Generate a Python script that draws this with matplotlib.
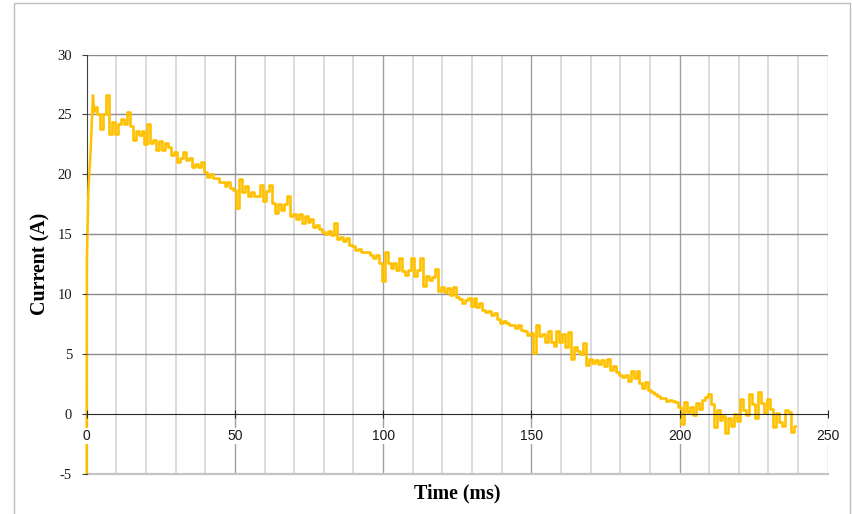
import matplotlib
matplotlib.use('Agg')
import matplotlib.pyplot as plt
import numpy as np
from matplotlib.patches import Rectangle

# switch-on ramp (ms, A)
t_rise = [0.0, 0.05, 0.6, 1.3, 2.1, 2.6]
i_rise = [-5.0, 13.0, 18.8, 21.8, 26.6, 25.2]

# current, 1 ms steps starting at 3 ms
t_first = 3
current = [
    25.6, 25.0, 23.8, 25.0, 26.6, 23.4, 24.4, 23.4, 24.2, 24.6,   # 3-12
    24.2, 25.2, 24.0, 22.9, 23.6, 23.3, 23.6, 22.5, 24.2, 22.6,   # 13-22
    22.9, 22.0, 22.8, 22.0, 22.6, 22.3, 21.6, 21.9, 21.0, 21.4,   # 23-32
    21.9, 21.2, 21.4, 20.6, 20.9, 20.6, 21.0, 20.2, 19.8, 20.0,   # 33-42
    19.7, 19.7, 19.4, 19.4, 19.0, 19.4, 18.9, 18.7, 17.2, 19.6,   # 43-52
    18.5, 19.0, 18.2, 18.5, 18.2, 18.2, 19.1, 17.8, 18.6, 19.1,   # 53-62
    17.6, 16.8, 17.5, 17.0, 17.5, 18.2, 16.5, 16.7, 16.3, 16.7,   # 63-72
    15.9, 16.5, 16.0, 16.3, 15.6, 15.8, 15.4, 15.2, 15.0, 15.3,   # 73-82
    14.9, 15.9, 14.6, 14.8, 14.4, 14.7, 14.1, 14.0, 13.7, 13.8,   # 83-92
    13.5, 13.5, 13.5, 13.3, 13.0, 13.3, 12.6, 11.1, 13.5, 12.6,   # 93-102
    12.2, 12.6, 12.0, 13.0, 11.9, 11.6, 12.0, 13.0, 11.5, 12.0,   # 103-112
    13.0, 10.7, 11.5, 11.2, 11.4, 12.1, 10.3, 10.6, 10.2, 10.5,   # 113-122
    9.9, 10.6, 9.8, 9.6, 9.3, 9.5, 9.7, 9.0, 9.7, 8.9,            # 123-132
    9.3, 8.7, 8.5, 8.6, 8.3, 8.4, 7.9, 7.6, 7.8, 7.6,             # 133-142
    7.4, 7.4, 7.2, 7.4, 7.0, 6.9, 6.6, 6.8, 5.1, 7.4,             # 143-152
    6.5, 6.7, 6.0, 6.9, 6.0, 5.7, 6.9, 6.0, 6.7, 5.6,             # 153-162
    6.85, 4.6, 5.6, 5.3, 5.0, 5.9, 4.1, 4.6, 4.3, 4.5,            # 163-172
    4.2, 4.5, 4.0, 4.6, 3.7, 4.0, 3.5, 3.3, 3.1, 3.3,             # 173-182
    2.8, 3.6, 3.0, 3.6, 2.6, 2.2, 2.7, 2.0, 1.8, 1.7,             # 183-192
    1.5, 1.3, 1.3, 1.1, 1.2, 1.05, 1.0, 0.6, -0.8, 1.0,           # 193-202
    0.2, 0.6, -0.1, 0.9, 0.4, 1.2, 1.4, 1.7, 0.8, -1.1,           # 203-212
    0.3, -0.5, -0.2, -1.6, -0.3, -1.0, 0.0, -0.6, 1.25, 0.3,      # 213-222
    -0.1, 1.7, 0.8, -0.3, 1.8, 0.9, 0.1, 1.25, 0.4, -1.1,         # 223-232
    0.1, -0.7, -1.0, 0.3, 0.2, -1.5, -1.0,                        # 233-239
]

x_ticks = [0, 50, 100, 150, 200, 250]
y_ticks = [-5, 0, 5, 10, 15, 20, 25, 30]

t_main = t_first + np.arange(len(current))

W, H = 853, 514
fig = plt.figure(figsize=(W / 100, H / 100), dpi=100)
ax = fig.add_axes([86.7 / W, 1 - 474 / H, (827.7 - 86.7) / W, (474 - 54.5) / H])

# outer chart border
fig.patches.append(Rectangle((14.5 / W, -0.1), (850 - 14.5) / W, 1.1 - 3.5 / H,
                             transform=fig.transFigure, fill=False,
                             ec='#bdbdbd', lw=1.0))

# gridlines drawn by hand so they stay under the trace
for xv in range(10, 250, 10):
    if xv % 50:
        ax.axvline(xv, color='#d6d6d6', lw=1.2, zorder=0.5)
for xv in [50, 100, 150, 200]:
    ax.axvline(xv, color='#a0a0a0', lw=1.0, zorder=0.6)
ax.axvline(250, color='#b4b4b4', lw=1.0, zorder=0.6)
for yv in [5, 10, 15, 20, 25, 30]:
    ax.axhline(yv, color='#8c8c8c', lw=1.0, zorder=0.6)
ax.axhline(-5, color='#c4c4c4', lw=1.6, zorder=0.6, clip_on=False)

# ramp as a plain line, the sampled part as steps
ax.plot(t_rise + [t_first], i_rise + [current[0]], color='#FFC000', lw=1.8,
        zorder=2, clip_on=False, solid_capstyle='butt')
ax.plot(t_main, current, color='#FFC000', lw=1.9, drawstyle='steps-mid',
        zorder=2)

ax.set_xlim(0, 250)
ax.set_ylim(-5, 30)
ax.set_axisbelow(False)

ax.spines['top'].set_visible(False)
ax.spines['right'].set_visible(False)
ax.spines['bottom'].set_position(('data', 0))
ax.spines['bottom'].set_color('#262626')
ax.spines['left'].set_color('#404040')
ax.spines['left'].set_zorder(1.9)

ax.set_xticks(x_ticks)
ax.set_xticklabels([str(v) for v in x_ticks])
ax.set_yticks(y_ticks)
ax.set_yticklabels([str(v) for v in y_ticks])
ax.tick_params(axis='x', direction='inout', length=5.5, width=0.8,
               color='#262626', pad=8)
ax.tick_params(axis='y', direction='out', length=3.5, width=0.8,
               color='#404040', pad=7)

for lbl in ax.get_xticklabels():
    lbl.set_fontfamily('Liberation Sans')
    lbl.set_fontsize(10)
    lbl.set_color('#1a1a1a')
    lbl.set_bbox(dict(fc='white', ec='none', pad=0.6))
for lbl in ax.get_yticklabels():
    lbl.set_fontfamily('Liberation Serif')
    lbl.set_fontsize(10.5)
    lbl.set_color('#1a1a1a')

fig.text(40 / W, 1 - 264 / H, 'Current (A)', rotation=90, ha='center',
         va='center', fontfamily='Liberation Serif', fontweight='bold',
         fontsize=14.4)
fig.text(457.5 / W, 1 - 498.3 / H, 'Time (ms)', ha='center', va='baseline',
         fontfamily='Liberation Serif', fontweight='bold', fontsize=14.4)

fig.savefig('out.png', dpi=100)
